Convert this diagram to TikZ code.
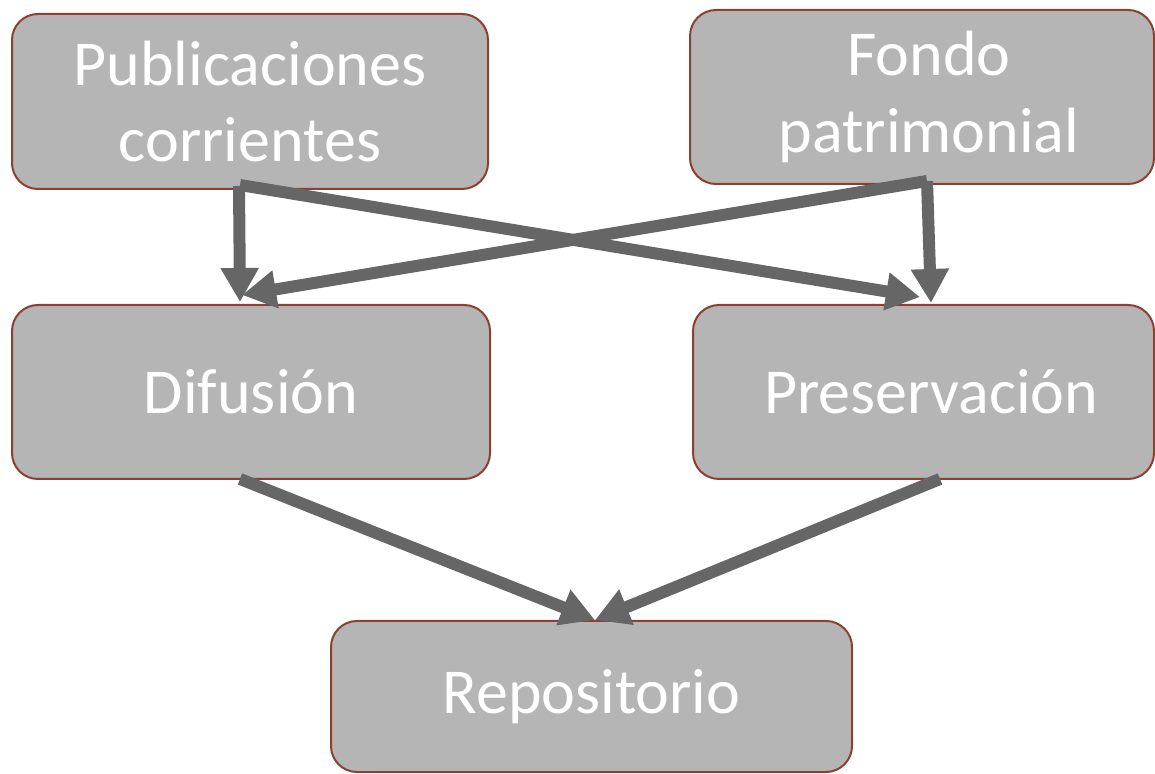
\documentclass[tikz,border=0pt]{standalone}
\usepackage{fontspec}
\setmainfont{Carlito}
\usetikzlibrary{arrows.meta,calc}
\definecolor{boxfill}{RGB}{181,181,181}
\definecolor{boxline}{RGB}{140,64,50}
\definecolor{arrowgray}{RGB}{102,102,102}
\tikzset{
  stagebox/.style={draw=boxline, line width=2pt, fill=boxfill, rounded corners=26pt,
    text=white, align=center, font=\fontsize{64}{76.5}\selectfont, inner sep=0pt},
  flowarrow/.style={draw=arrowgray, line width=12pt, -{Triangle[width=36pt,length=34pt]}}
}
\begin{document}
\begin{tikzpicture}[x=1pt,y=1pt]
\useasboundingbox (0,0) rectangle (1155,773);
\node[stagebox, minimum width=476pt, minimum height=175pt] (pub) at (250,671.5) {Publicaciones\\corrientes};
\node[stagebox, minimum width=464pt, minimum height=174pt] (fondo) at (922,676) {\hspace*{14pt}Fondo\\\hspace*{14pt}patrimonial};
\node[stagebox, minimum width=478pt, minimum height=174pt] (dif) at (251,381) {Difusión};
\node[stagebox, minimum width=461pt, minimum height=174pt] (pres) at (923.5,381) {\hspace*{15pt}Preservación};
\node[stagebox, minimum width=521pt, minimum height=151pt] (rep) at (591.5,76.5) {Repositorio};
\draw[flowarrow] ($(pub.south)+(-11,4)$) -- ($(dif.north)+(-11,2)$);
\draw[flowarrow] ($(pub.south)+(-10,5)$) -- ($(pres.north)+(-3.5,7)$);
\draw[flowarrow] ($(fondo.south)+(5,4)$) -- ($(dif.north)+(-9,9)$);
\draw[flowarrow] ($(fondo.south)+(5,4)$) -- ($(pres.north)+(7.5,1)$);
\draw[flowarrow] ($(dif.south)+(-11,1)$) -- ($(rep.north)+(3.5,0)$);
\draw[flowarrow] ($(pres.south)+(16.5,1)$) -- ($(rep.north)+(3.5,0)$);
\end{tikzpicture}
\end{document}
